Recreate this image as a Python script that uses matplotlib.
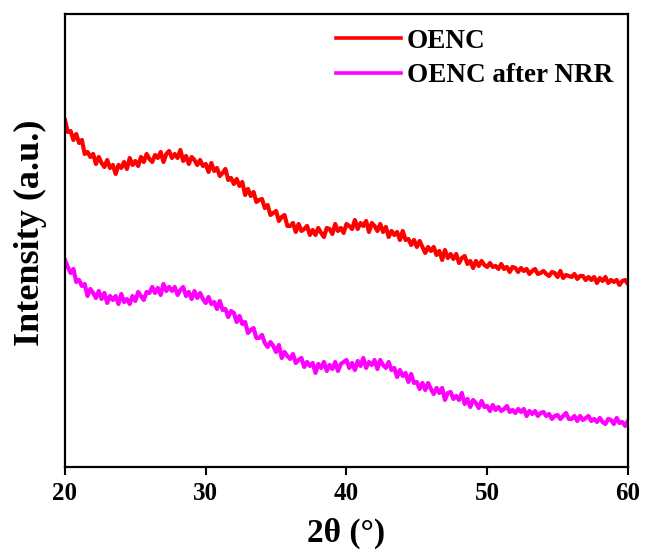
import numpy as np
import matplotlib
matplotlib.use("Agg")
import matplotlib.pyplot as plt

plt.rcParams['font.family'] = ['Liberation Serif', 'DejaVu Serif']
plt.rcParams['font.weight'] = 'bold'

# 2θ scan, 20°–60° in 0.2° steps
two_theta = np.round(np.arange(201) * 0.2 + 20.0, 1)

oenc = [
    347, 335, 336, 327, 333, 324, 327, 313, 315, 310,
    313, 303, 310, 304, 300, 307, 299, 302, 293, 302,
    299, 305, 298, 309, 302, 306, 301, 310, 305, 313,
    308, 305, 312, 309, 315, 305, 313, 316, 309, 313,
    309, 317, 306, 311, 303, 310, 307, 302, 307, 301,
    303, 295, 304, 296, 299, 291, 294, 298, 287, 289,
    283, 288, 281, 285, 272, 278, 271, 275, 265, 267,
    268, 259, 262, 252, 254, 256, 246, 250, 252, 241,
    241, 244, 235, 243, 236, 238, 241, 232, 237, 232,
    239, 234, 230, 239, 238, 233, 243, 236, 239, 234,
    243, 241, 238, 247, 238, 244, 241, 246, 235, 244,
    241, 236, 243, 235, 240, 230, 236, 232, 235, 227,
    236, 227, 228, 222, 227, 220, 226, 220, 214, 220,
    216, 220, 212, 216, 207, 217, 209, 213, 208, 213,
    204, 209, 211, 203, 206, 199, 206, 201, 206, 202,
    200, 204, 200, 201, 198, 203, 198, 200, 195, 200,
    199, 195, 199, 196, 198, 193, 196, 198, 193, 194,
    196, 193, 191, 195, 194, 190, 196, 189, 192, 191,
    190, 193, 188, 191, 191, 187, 190, 187, 190, 184,
    189, 186, 190, 184, 187, 185, 187, 182, 186, 187,
    183,
]

oenc_after_nrr = [
    207, 200, 194, 198, 185, 187, 181, 183, 171, 178,
    174, 169, 176, 168, 174, 164, 171, 167, 171, 163,
    173, 165, 168, 163, 171, 166, 175, 171, 167, 175,
    174, 180, 174, 179, 172, 183, 176, 180, 176, 180,
    172, 177, 180, 171, 175, 168, 176, 169, 174, 168,
    164, 170, 163, 165, 158, 166, 157, 158, 150, 156,
    154, 145, 151, 143, 145, 134, 137, 139, 129, 129,
    132, 124, 120, 125, 121, 115, 122, 109, 115, 111,
    108, 113, 104, 107, 109, 100, 105, 101, 104, 94,
    103, 99, 105, 96, 102, 98, 105, 96, 103, 105,
    107, 99, 104, 97, 106, 101, 109, 99, 105, 102,
    107, 98, 107, 102, 99, 105, 97, 99, 90, 97,
    91, 94, 85, 93, 84, 85, 78, 84, 77, 84,
    78, 73, 79, 74, 79, 67, 74, 75, 68, 71,
    67, 74, 63, 68, 60, 67, 64, 59, 66, 60,
    61, 56, 62, 57, 60, 56, 58, 61, 55, 57,
    54, 58, 55, 58, 51, 56, 53, 56, 51, 54,
    55, 51, 53, 48, 51, 52, 48, 51, 54, 48,
    48, 51, 46, 51, 47, 49, 51, 46, 48, 45,
    49, 45, 43, 48, 47, 43, 49, 44, 45, 41,
    46,
]

series_labels = ["OENC", "OENC after NRR"]
series_colors = ["#ff0000", "#ff00ff"]
x_ticks = [20, 30, 40, 50, 60]

fig = plt.figure(figsize=(6.46, 5.59), dpi=100)
ax = fig.add_axes([0.1006, 0.1646, 0.8714, 0.8104])

for y, lab, col in zip([oenc, oenc_after_nrr], series_labels, series_colors):
    ax.plot(two_theta, y, color=col, lw=3.0, label=lab)

ax.set_xlim(20, 60)
ax.set_ylim(0, 453)
ax.set_xticks(x_ticks)
ax.set_yticks([])
ax.tick_params(axis='x', direction='out', length=6, width=1.5,
               labelsize=18, pad=5)
for lbl in ax.get_xticklabels():
    lbl.set_fontweight('bold')
for sp in ax.spines.values():
    sp.set_linewidth(1.6)

ax.set_xlabel("2θ (°)", fontsize=24, fontweight='bold', labelpad=9)
ax.set_ylabel("Intensity (a.u.)", fontsize=26, fontweight='bold')
ax.yaxis.set_label_coords(-0.032, 0.518)

leg = ax.legend(loc='upper right', frameon=False,
                handlelength=2.4, handletextpad=0.2, labelspacing=0.35,
                borderaxespad=0.15, prop={'weight': 'bold', 'size': 19.5})
for h in leg.get_lines():
    h.set_linewidth(2.6)

fig.savefig("out.png", dpi=100)
